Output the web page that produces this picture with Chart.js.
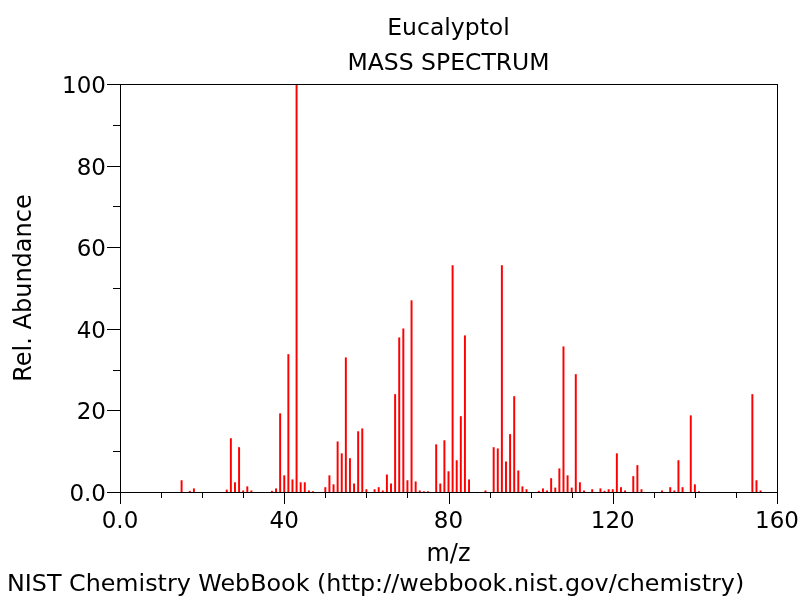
<!DOCTYPE html>
<html>
<head>
<meta charset="utf-8">
<script src="https://cdn.jsdelivr.net/npm/chart.js@4/dist/chart.umd.min.js"></script>
<style>
  body { margin: 0; background: #fff; }
  canvas { display: block; }
</style>
</head>
<body>
<canvas id="spectrum" width="800" height="600"></canvas>
<script>
// m/z positions and relative abundance
const mzValues = [15, 17, 18, 26, 27, 28, 29, 30, 31, 32, 37, 38, 39, 40, 41, 42, 43, 44, 45, 46, 47,
  50, 51, 52, 53, 54, 55, 56, 57, 58, 59, 60, 62, 63, 64, 65, 66, 67, 68, 69, 70, 71, 72, 73, 74, 75,
  77, 78, 79, 80, 81, 82, 83, 84, 85, 89, 91, 92, 93, 94, 95, 96, 97, 98, 99,
  102, 103, 104, 105, 106, 107, 108, 109, 110, 111, 112, 113, 115, 117, 118, 119, 120, 121, 122, 123,
  125, 126, 127, 132, 134, 135, 136, 137, 139, 140, 141, 154, 155, 156];
const abundance = [2.8, 0.2, 0.8, 0.5, 13.1, 2.3, 10.9, 0.3, 1.3, 0.3, 0.2, 0.8, 19.2, 4.0, 33.7, 3.0, 100, 2.3, 2.3, 0.3, 0.1,
  1.1, 4.0, 1.8, 12.3, 9.4, 32.9, 8.2, 2.0, 14.8, 15.5, 0.6, 0.6, 1.1, 0.3, 4.2, 2.0, 23.9, 37.8, 40.0, 2.8, 46.9, 2.5, 0.3, 0.1, 0.1,
  11.6, 2.0, 12.6, 5.0, 55.5, 7.7, 18.5, 38.3, 3.0, 0.3, 10.9, 10.6, 55.5, 7.4, 14.1, 23.4, 5.2, 1.3, 0.6,
  0.2, 0.8, 0.3, 3.3, 1.0, 5.7, 35.6, 4.0, 1.0, 28.8, 2.3, 0.3, 0.6, 0.8, 0.2, 0.6, 0.6, 9.4, 1.1, 0.3,
  3.8, 6.5, 0.6, 0.3, 1.1, 0.3, 7.7, 1.1, 18.7, 1.8, 0.1, 23.9, 2.8, 0.3];

// tick labels
const xTicks = [0, 40, 80, 120, 160];
const yTicks = [0, 20, 40, 60, 80, 100];
const xMinorStep = 10;
const yMinorStep = 10;

const titleLines = ['Eucalyptol', 'MASS SPECTRUM'];
const footerText = 'NIST Chemistry WebBook (http://webbook.nist.gov/chemistry)';

const FONT = 'DejaVu Sans';

function tickLabel(v) {
  return v === 0 ? '0.0' : String(v);
}

// frame, tick marks, titles and footer
const decorations = {
  id: 'decorations',
  afterDraw(chart) {
    const ctx = chart.ctx;
    const area = chart.chartArea;
    const xs = chart.scales.x;
    const ys = chart.scales.y;
    ctx.save();
    ctx.strokeStyle = '#000';
    ctx.lineWidth = 1;
    ctx.strokeRect(Math.round(area.left) + 0.5, Math.round(area.top) + 0.5,
      Math.round(area.right - area.left), Math.round(area.bottom - area.top));

    ctx.beginPath();
    for (let v = xs.min; v <= xs.max; v += xMinorStep) {
      const px = Math.round(xs.getPixelForValue(v)) + 0.5;
      const len = xTicks.includes(v) ? 12 : 6;
      ctx.moveTo(px, area.bottom);
      ctx.lineTo(px, area.bottom + len);
    }
    for (let v = ys.min; v <= ys.max; v += yMinorStep) {
      const py = Math.round(ys.getPixelForValue(v)) + 0.5;
      const len = yTicks.includes(v) ? 13 : 7;
      ctx.moveTo(area.left, py);
      ctx.lineTo(area.left - len, py);
    }
    ctx.stroke();

    ctx.fillStyle = '#000';
    ctx.font = '23.5px "' + FONT + '"';
    ctx.textAlign = 'center';
    ctx.textBaseline = 'middle';
    const cx = (area.left + area.right) / 2;
    ctx.fillText(titleLines[0], cx, 29);
    ctx.fillText(titleLines[1], cx, 64);

    ctx.font = '23.8px "' + FONT + '"';
    ctx.textAlign = 'left';
    ctx.fillText(footerText, 7, 585);
    ctx.restore();
  }
};

const points = mzValues.map((m, i) => ({ x: m, y: abundance[i] }));

new Chart(document.getElementById('spectrum'), {
  type: 'bar',
  data: {
    datasets: [{
      data: points,
      backgroundColor: '#ff0000',
      borderWidth: 0,
      barThickness: 1.3
    }]
  },
  options: {
    responsive: false,
    animation: false,
    layout: { padding: { top: 84, right: 23, left: 0, bottom: 0 } },
    plugins: {
      legend: { display: false },
      tooltip: { enabled: false }
    },
    scales: {
      x: {
        type: 'linear',
        min: 0,
        max: 160,
        offset: false,
        afterBuildTicks: s => { s.ticks = xTicks.map(v => ({ value: v })); },
        afterFit: s => { s.height = 108; s.paddingLeft = 0; s.paddingRight = 0; },
        grid: { display: false, drawTicks: false },
        border: { display: false },
        ticks: {
          callback: tickLabel,
          autoSkip: false,
          maxRotation: 0,
          padding: 16,
          color: '#000',
          font: { family: FONT, size: 23 }
        },
        title: {
          display: true,
          text: 'm/z',
          color: '#000',
          font: { family: FONT, size: 24 },
          padding: 31
        }
      },
      y: {
        min: 0,
        max: 100,
        afterBuildTicks: s => { s.ticks = yTicks.map(v => ({ value: v })); },
        afterFit: s => { s.width = 120; s.paddingTop = 0; s.paddingBottom = 0; },
        grid: { display: false, drawTicks: false },
        border: { display: false },
        ticks: {
          callback: tickLabel,
          padding: 14,
          labelOffset: 3,
          color: '#000',
          font: { family: FONT, size: 23 }
        },
        title: {
          display: true,
          text: 'Rel. Abundance',
          color: '#000',
          font: { family: FONT, size: 24 },
          padding: 10
        }
      }
    }
  },
  plugins: [decorations]
});
</script>
</body>
</html>
